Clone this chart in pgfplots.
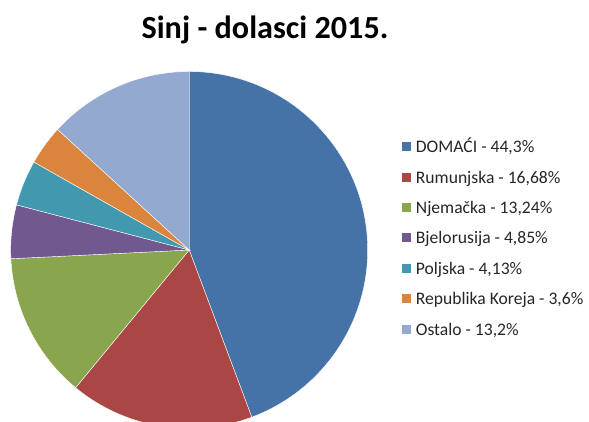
\documentclass[border=0pt]{standalone}
\usepackage{pgfplots}
\pgfplotsset{compat=1.18}
\usepackage{fontspec}
\setmainfont{Carlito}
\definecolor{s1}{HTML}{4572A7}
\definecolor{s2}{HTML}{AA4643}
\definecolor{s3}{HTML}{89A54E}
\definecolor{s4}{HTML}{71588F}
\definecolor{s5}{HTML}{4198AF}
\definecolor{s6}{HTML}{DB843D}
\definecolor{s7}{HTML}{93A9CF}
% pie data (percent)
\def\vA{44.3}\def\vB{16.68}\def\vC{13.24}\def\vD{4.85}\def\vE{4.13}\def\vF{3.6}\def\vG{13.2}
\pgfmathsetmacro{\aA}{90}
\pgfmathsetmacro{\aB}{\aA-3.6*\vA}
\pgfmathsetmacro{\aC}{\aB-3.6*\vB}
\pgfmathsetmacro{\aD}{\aC-3.6*\vC}
\pgfmathsetmacro{\aE}{\aD-3.6*\vD}
\pgfmathsetmacro{\aF}{\aE-3.6*\vE}
\pgfmathsetmacro{\aG}{\aF-3.6*\vF}
\pgfmathsetmacro{\aH}{\aG-3.6*\vG}
\def\cx{189.2}\def\cy{171}\def\R{178.5pt}
\newcommand{\slice}[3]{\fill[#3,draw=white,line width=0.4pt] (axis cs:\cx,\cy) -- ++(#1:\R) arc[start angle=#1,end angle=#2,radius=\R] -- cycle;}
\newcommand{\legitem}[3]{%
 \fill[#2] (axis cs:401.7,{421-#1-4.5}) rectangle (axis cs:410.7,{421-#1+4.5});
 \node[anchor=base west,inner sep=0pt,font=\fontsize{17.6}{19}\selectfont,text=black!85] at (axis cs:415.7,{421-#1-6}) {#3};}
\begin{document}
\begin{tikzpicture}
\begin{axis}[hide axis,scale only axis,width=589pt,height=421pt,
 xmin=0,xmax=589,ymin=0,ymax=421,clip=true]
\addplot[draw=none] coordinates {(0,0) (589,421)};
\slice{\aA}{\aB}{s1}
\slice{\aB}{\aC}{s2}
\slice{\aC}{\aD}{s3}
\slice{\aD}{\aE}{s4}
\slice{\aE}{\aF}{s5}
\slice{\aF}{\aG}{s6}
\slice{\aG}{\aH}{s7}
\node[anchor=base,inner sep=0pt,font=\bfseries\fontsize{32.2}{35}\selectfont] at (axis cs:265,{421-38.3}) {Sinj - dolasci 2015.};
\legitem{146.7}{s1}{DOMAĆI - 44,3\%}
\legitem{177.1}{s2}{Rumunjska - 16,68\%}
\legitem{207.5}{s3}{Njemačka - 13,24\%}
\legitem{237.9}{s4}{Bjelorusija - 4,85\%}
\legitem{268.3}{s5}{Poljska - 4,13\%}
\legitem{298.7}{s6}{Republika Koreja - 3,6\%}
\legitem{329.1}{s7}{Ostalo - 13,2\%}
\end{axis}
\end{tikzpicture}
\end{document}
